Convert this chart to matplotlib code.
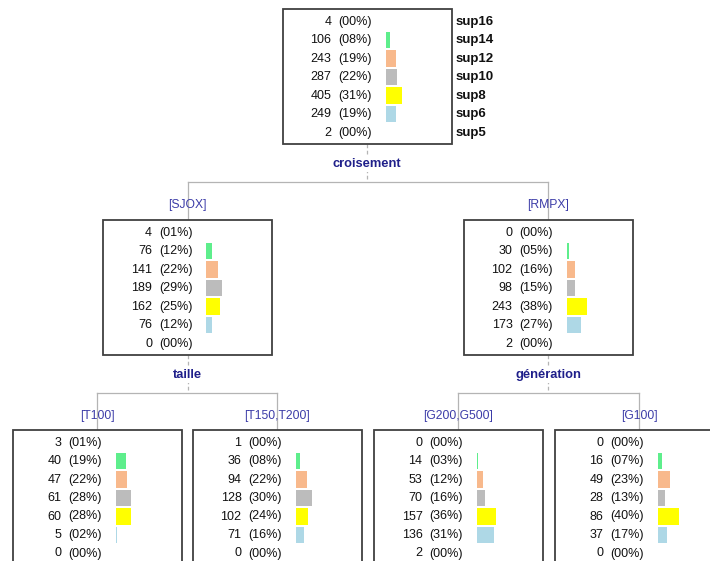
import matplotlib
matplotlib.use('Agg')
import matplotlib.pyplot as plt
from matplotlib.patches import Rectangle

classes = ['sup16', 'sup14', 'sup12', 'sup10', 'sup8', 'sup6', 'sup5']
colors = ['#e05050', '#5eee8c', '#f8b98c', '#bcbcbc', '#ffff00', '#aed8e6', '#9060c0']

root_counts = [4, 106, 243, 287, 405, 249, 2]
sjox_counts = [4, 76, 141, 189, 162, 76, 0]
rmpx_counts = [0, 30, 102, 98, 243, 173, 2]
t100_counts = [3, 40, 47, 61, 60, 5, 0]
t150_counts = [1, 36, 94, 128, 102, 71, 0]
g200_counts = [0, 14, 53, 70, 157, 136, 2]
g100_counts = [0, 16, 49, 28, 86, 37, 0]

split_labels = ['croisement', 'taille', 'génération']
branch_labels = ['[SJOX]', '[RMPX]', '[T100]', '[T150,T200]', '[G200,G500]', '[G100]']

plt.rcParams['font.family'] = ['Liberation Sans', 'DejaVu Sans']

BOX_W = 169
BOX_H = 135
ROW = 18.5
LINE_C = '#b4b4b4'
SPLIT_C = '#1f1f8a'
BRANCH_C = '#3c3ca8'

fig = plt.figure(figsize=(7.1, 5.61), dpi=100)
ax = fig.add_axes([0, 0, 1, 1])
ax.set_xlim(0, 710)
ax.set_ylim(561, 0)
ax.axis('off')


def draw_node(cx, top, counts):
    left = cx - BOX_W / 2
    total = sum(counts)
    ax.add_patch(Rectangle((left, top), BOX_W, BOX_H, facecolor='white',
                           edgecolor='#404040', lw=1.3, zorder=3))
    for i in range(len(counts)):
        y = top + 12.5 + i * ROW
        pct = 100.0 * counts[i] / total
        ax.text(left + 49, y, str(counts[i]), ha='right', va='center',
                fontsize=9, color='#111111', zorder=4)
        ax.text(left + 56, y, '(%02d%%)' % round(pct), ha='left', va='center',
                fontsize=9, color='#111111', zorder=4)
        ax.add_patch(Rectangle((left + 103, y - 8.2), pct * 0.54, 16.4,
                               facecolor=colors[i], edgecolor='none', zorder=4))
    return left


def draw_split(cx, bottom, label, child_x, children):
    ly = bottom + 20
    hy = bottom + 38
    ax.plot([cx, cx], [bottom, hy], color=LINE_C, lw=0.9, ls=(0, (3, 2)), zorder=1)
    ax.text(cx, ly, label, ha='center', va='center', fontsize=9.3,
            fontweight='bold', color=SPLIT_C, zorder=2,
            bbox=dict(facecolor='white', edgecolor='none', pad=1.5))
    ax.plot([child_x[0], child_x[-1]], [hy, hy], color=LINE_C, lw=0.9, zorder=1)
    for x, name in zip(child_x, children):
        ax.plot([x, x], [hy, hy + 37], color=LINE_C, lw=0.9, zorder=1)
        ax.text(x, hy + 23, name, ha='center', va='center', fontsize=8.7,
                color=BRANCH_C, zorder=2)


# root
left = draw_node(367, 9, root_counts)
for i in range(len(classes)):
    ax.text(left + BOX_W + 4, 9 + 12.5 + i * ROW, classes[i], ha='left',
            va='center', fontsize=9.5, fontweight='bold', color='#101010')
draw_split(367, 9 + BOX_H, split_labels[0], [187.5, 548], branch_labels[0:2])

# second level
draw_node(187.5, 220, sjox_counts)
draw_node(548, 220, rmpx_counts)
draw_split(187.5, 220 + BOX_H, split_labels[1], [97, 277], branch_labels[2:4])
draw_split(548, 220 + BOX_H, split_labels[2], [458, 639], branch_labels[4:6])

# leaves
draw_node(97, 430, t100_counts)
draw_node(277, 430, t150_counts)
draw_node(458, 430, g200_counts)
draw_node(639, 430, g100_counts)

fig.savefig('out.png', dpi=100)
